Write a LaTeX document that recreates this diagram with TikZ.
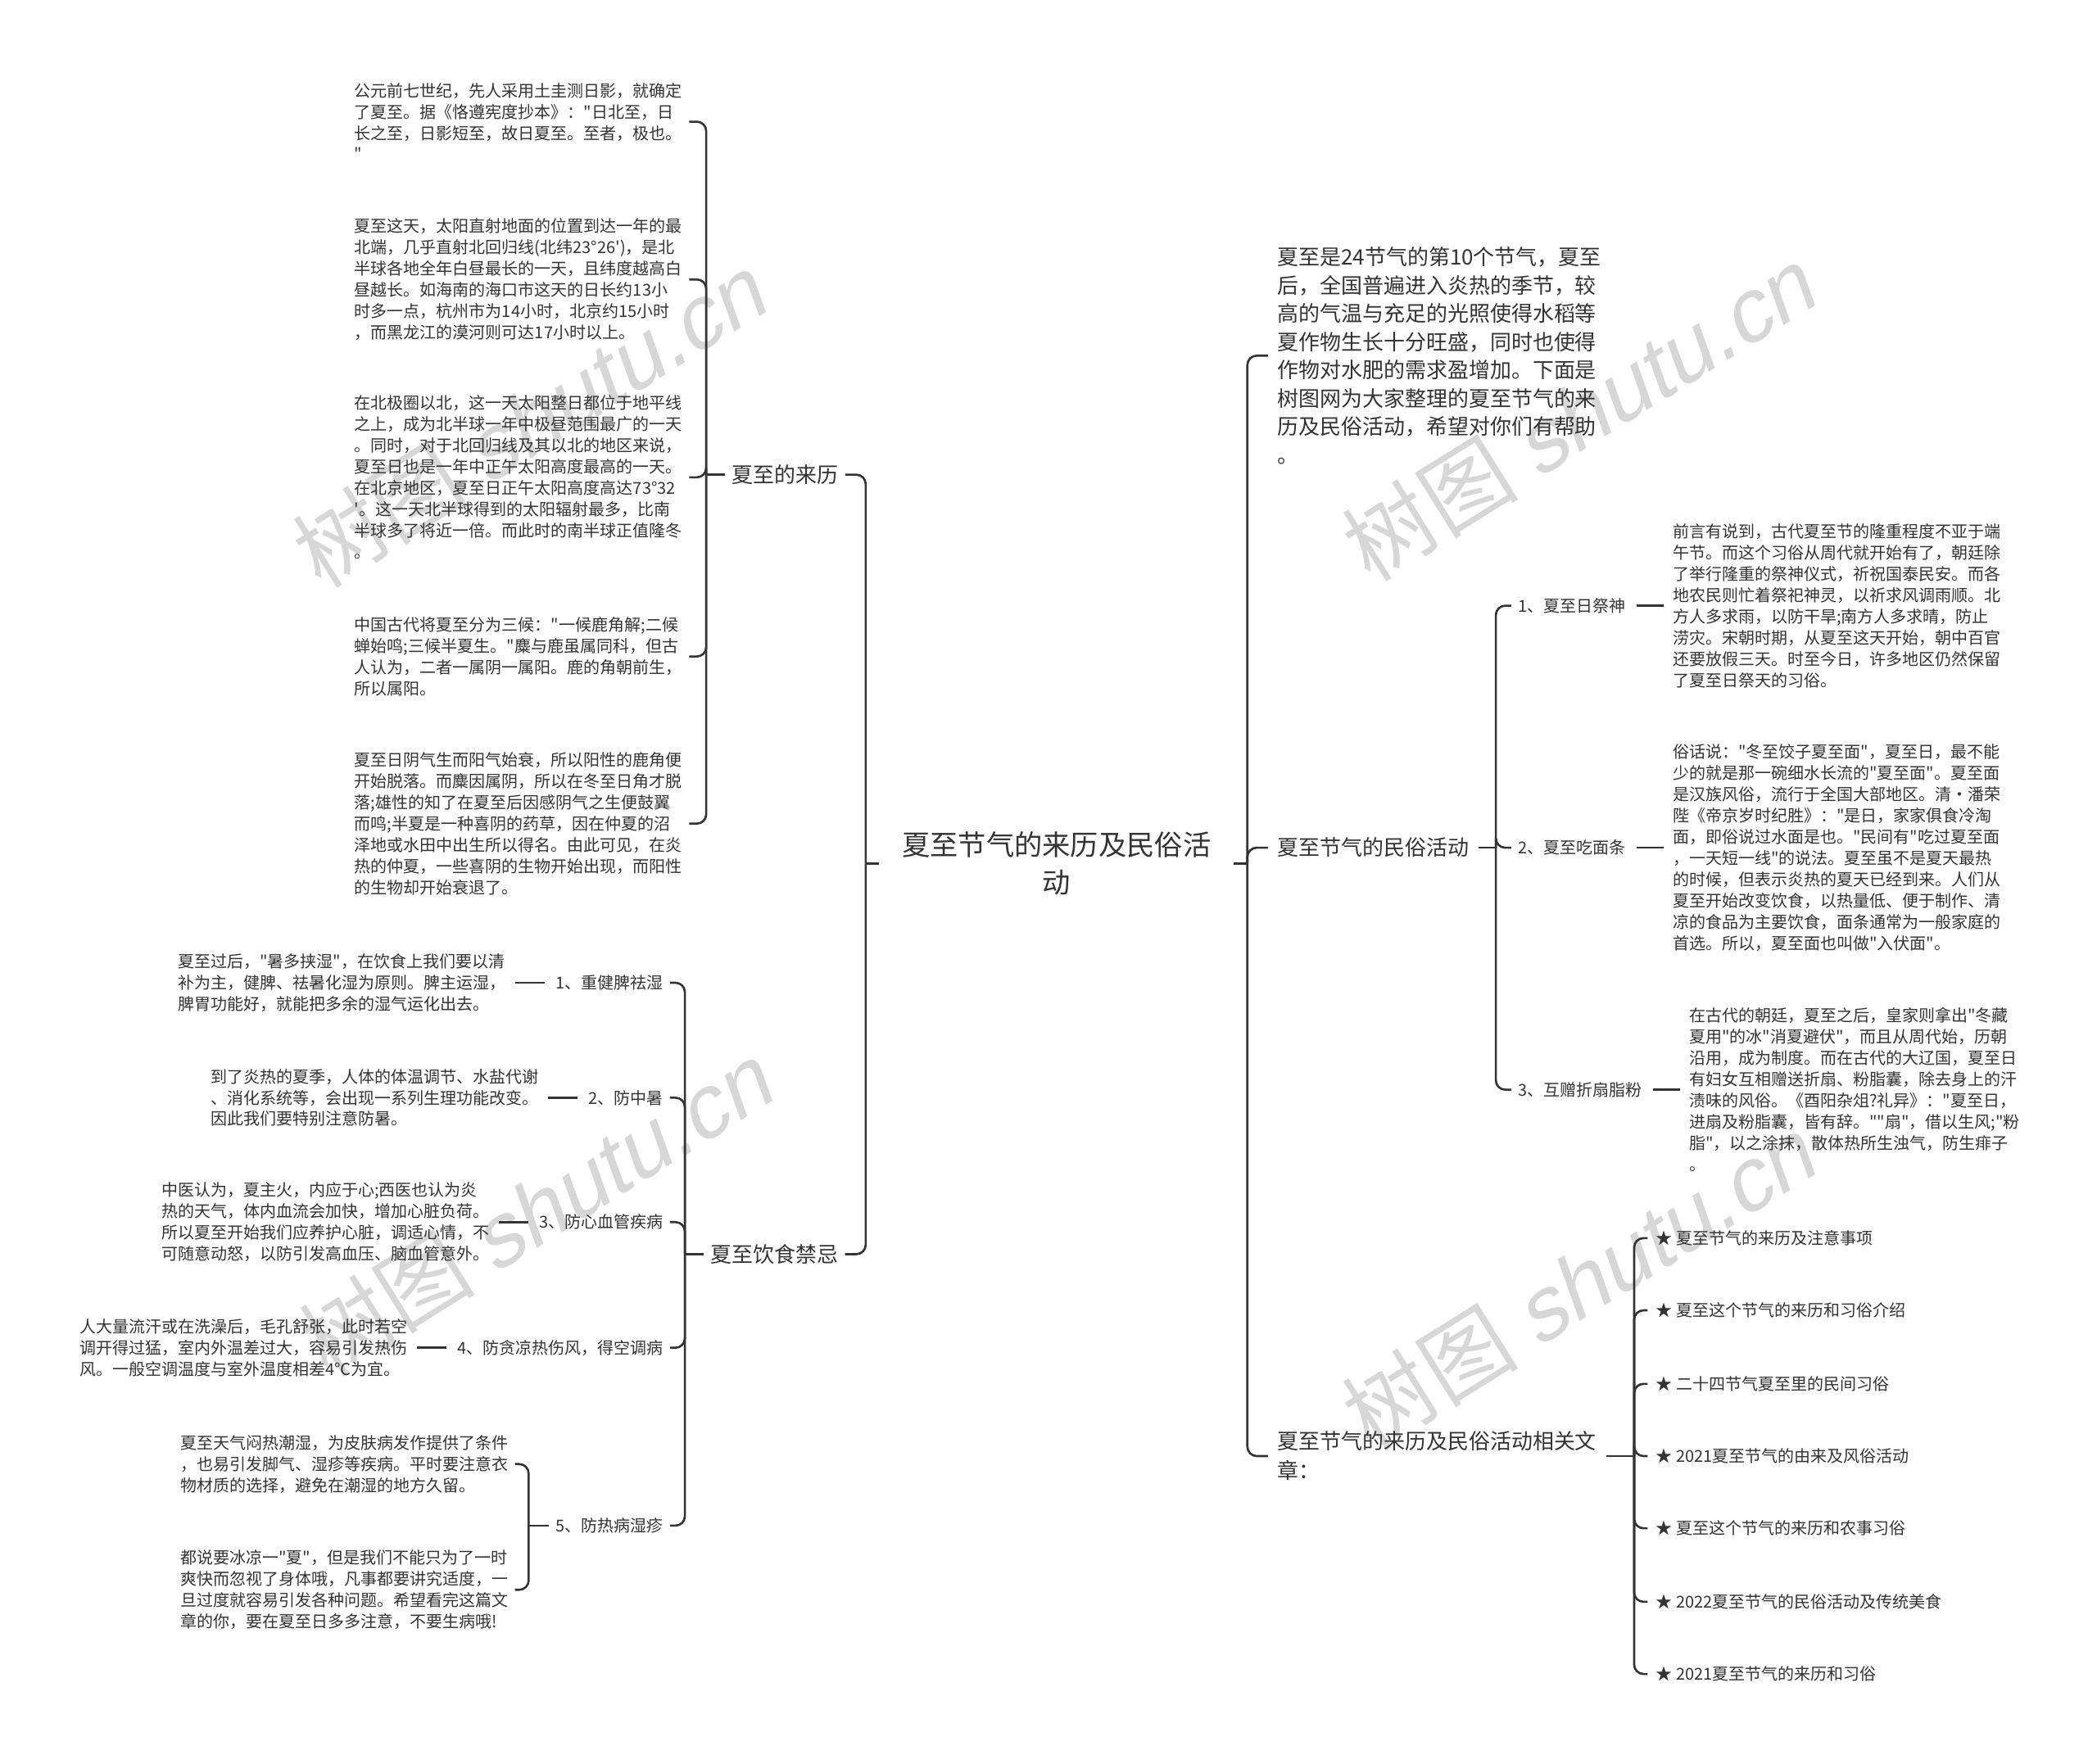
\documentclass[tikz,border=0pt]{standalone}
\usepackage{fontspec}
\setmainfont{Noto Sans CJK SC}[Ligatures=TeXOff]
\newfontfamily\wmlatin{Liberation Sans}[FakeSlant=0.22]
\usepackage{xcolor}
\usetikzlibrary{positioning}
\definecolor{inkgray}{RGB}{51,51,51}
\definecolor{wmgray}{RGB}{215,215,215}

\begin{document}
\begin{tikzpicture}[x=1pt, y=-1pt,
    conn/.style={draw=inkgray, line width=1.6pt},
    elbow/.style={conn, rounded corners=7pt},
    rootbox/.style={font=\fontsize{21}{28}\selectfont, align=center,
                    inner xsep=17pt, inner ysep=2pt, text=inkgray},
    branchlbl/.style={font=\fontsize{15.9}{22}\selectfont, align=left,
                      inner xsep=5pt, inner ysep=1pt, text=inkgray},
    introtxt/.style={font=\fontsize{15.9}{21.1}\selectfont, align=left,
                     inner xsep=7pt, inner ysep=1pt, text=inkgray},
    leaflbl/.style={font=\fontsize{12.25}{15.9}\selectfont,
                    inner xsep=5pt, inner ysep=1pt, text=inkgray},
    para/.style={font=\fontsize{12.25}{15.9}\selectfont, align=left,
                 inner xsep=5pt, inner ysep=1pt, text=inkgray},
    itemlbl/.style={font=\fontsize{12.25}{15.9}\selectfont, anchor=west,
                    inner xsep=6pt, inner ysep=1pt, text=inkgray},
    wmtext/.style={font=\fontsize{66}{70}\selectfont, text=wmgray, rotate=32}
]
\useasboundingbox (0,0) rectangle (1568,1319);

% watermarks
\node[wmtext] (wm1) at (395,315) {树图 {\wmlatin shutu.cn}};
\node[wmtext] (wm2) at (1180,310) {树图 {\wmlatin shutu.cn}};
\node[wmtext] (wm3) at (400,905) {树图 {\wmlatin shutu.cn}};
\node[wmtext] (wm4) at (1180,960) {树图 {\wmlatin shutu.cn}};

% root
\node[rootbox] (root) at (790,646) {夏至节气的来历及民俗活\\动};

% left: origin
\node[branchlbl] (lai) at (587,355) {夏至的来历};
\node[para, anchor=west] (lai1) at (260,91) {公元前七世纪，先人采用土圭测日影，就确定\\了夏至。据《恪遵宪度抄本》："日北至，日\\长之至，日影短至，故日夏至。至者，极也。\\"};
\node[para, anchor=west] (lai2) at (260,209) {夏至这天，太阳直射地面的位置到达一年的最\\北端，几乎直射北回归线(北纬23°26')，是北\\半球各地全年白昼最长的一天，且纬度越高白\\昼越长。如海南的海口市这天的日长约13小\\时多一点，杭州市为14小时，北京约15小时\\，而黑龙江的漠河则可达17小时以上。};
\node[para, anchor=west] (lai3) at (260,357) {在北极圈以北，这一天太阳整日都位于地平线\\之上，成为北半球一年中极昼范围最广的一天\\。同时，对于北回归线及其以北的地区来说，\\夏至日也是一年中正午太阳高度最高的一天。\\在北京地区，夏至日正午太阳高度高达73°32\\'。这一天北半球得到的太阳辐射最多，比南\\半球多了将近一倍。而此时的南半球正值隆冬\\。};
\node[para, anchor=west] (lai4) at (260,491) {中国古代将夏至分为三候："一候鹿角解;二候\\蝉始鸣;三候半夏生。"麋与鹿虽属同科，但古\\人认为，二者一属阴一属阳。鹿的角朝前生，\\所以属阳。};
\node[para, anchor=west] (lai5) at (260,616) {夏至日阴气生而阳气始衰，所以阳性的鹿角便\\开始脱落。而麋因属阴，所以在冬至日角才脱\\落;雄性的知了在夏至后因感阴气之生便鼓翼\\而鸣;半夏是一种喜阴的药草，因在仲夏的沼\\泽地或水田中出生所以得名。由此可见，在炎\\热的仲夏，一些喜阴的生物开始出现，而阳性\\的生物却开始衰退了。};

% left: diet
\node[branchlbl] (yin) at (579,938) {夏至饮食禁忌};
\node[leaflbl, anchor=east] (y1) at (501,735) {1、重健脾祛湿};
\node[leaflbl, anchor=east] (y2) at (501,821) {2、防中暑};
\node[leaflbl, anchor=east] (y3) at (501,914) {3、防心血管疾病};
\node[leaflbl, anchor=east] (y4) at (501,1008) {4、防贪凉热伤风，得空调病};
\node[leaflbl, anchor=east] (y5) at (501,1141) {5、防热病湿疹};
\node[para, left=27pt of y1] (y1t) {夏至过后，"暑多挟湿"，在饮食上我们要以清\\补为主，健脾、祛暑化湿为原则。脾主运湿，\\脾胃功能好，就能把多余的湿气运化出去。};
\node[para, left=27pt of y2] (y2t) {到了炎热的夏季，人体的体温调节、水盐代谢\\、消化系统等，会出现一系列生理功能改变。\\因此我们要特别注意防暑。};
\node[para, left=27pt of y3] (y3t) {中医认为，夏主火，内应于心;西医也认为炎\\热的天气，体内血流会加快，增加心脏负荷。\\所以夏至开始我们应养护心脏，调适心情，不\\可随意动怒，以防引发高血压、脑血管意外。};
\node[para, left=27pt of y4] (y4t) {人大量流汗或在洗澡后，毛孔舒张，此时若空\\调开得过猛，室内外温差过大，容易引发热伤\\风。一般空调温度与室外温度相差4℃为宜。};
\node[para, anchor=east] (y5a) at (385,1095) {夏至天气闷热潮湿，为皮肤病发作提供了条件\\，也易引发脚气、湿疹等疾病。平时要注意衣\\物材质的选择，避免在潮湿的地方久留。};
\node[para, anchor=east] (y5b) at (385,1189) {都说要冰凉一"夏"，但是我们不能只为了一时\\爽快而忽视了身体哦，凡事都要讲究适度，一\\旦过度就容易引发各种问题。希望看完这篇文\\章的你，要在夏至日多多注意，不要生病哦!};

% right: intro and customs
\node[introtxt, anchor=west] (intro) at (948,266) {夏至是24节气的第10个节气，夏至\\后，全国普遍进入炎热的季节，较\\高的气温与充足的光照使得水稻等\\夏作物生长十分旺盛，同时也使得\\作物对水肥的需求盈增加。下面是\\树图网为大家整理的夏至节气的来\\历及民俗活动，希望对你们有帮助\\。};
\node[branchlbl, anchor=west, inner xsep=7pt] (min) at (948,634) {夏至节气的民俗活动};
\node[leaflbl, anchor=west] (m1) at (1130,453) {1、夏至日祭神};
\node[leaflbl, anchor=west] (m2) at (1130,634) {2、夏至吃面条};
\node[leaflbl, anchor=west] (m3) at (1130,815) {3、互赠折扇脂粉};
\node[para, right=25pt of m1] (m1t) {前言有说到，古代夏至节的隆重程度不亚于端\\午节。而这个习俗从周代就开始有了，朝廷除\\了举行隆重的祭神仪式，祈祝国泰民安。而各\\地农民则忙着祭祀神灵，以祈求风调雨顺。北\\方人多求雨，以防干旱;南方人多求晴，防止\\涝灾。宋朝时期，从夏至这天开始，朝中百官\\还要放假三天。时至今日，许多地区仍然保留\\了夏至日祭天的习俗。};
\node[para, right=25pt of m2] (m2t) {俗话说："冬至饺子夏至面"，夏至日，最不能\\少的就是那一碗细水长流的"夏至面"。夏至面\\是汉族风俗，流行于全国大部地区。清·潘荣\\陛《帝京岁时纪胜》："是日，家家俱食冷淘\\面，即俗说过水面是也。"民间有"吃过夏至面\\，一天短一线"的说法。夏至虽不是夏天最热\\的时候，但表示炎热的夏天已经到来。人们从\\夏至开始改变饮食，以热量低、便于制作、清\\凉的食品为主要饮食，面条通常为一般家庭的\\首选。所以，夏至面也叫做"入伏面"。};
\node[para, right=25pt of m3] (m3t) {在古代的朝廷，夏至之后，皇家则拿出"冬藏\\夏用"的冰"消夏避伏"，而且从周代始，历朝\\沿用，成为制度。而在古代的大辽国，夏至日\\有妇女互相赠送折扇、粉脂囊，除去身上的汗\\渍味的风俗。《酉阳杂俎?礼异》："夏至日，\\进扇及粉脂囊，皆有辞。""扇"，借以生风;"粉\\脂"，以之涂抹，散体热所生浊气，防生痱子\\。};

% right: related articles
\node[branchlbl, anchor=west, inner xsep=7pt] (rel) at (948,1089) {夏至节气的来历及民俗活动相关文\\章：};
\node[itemlbl] (r1) at (1232,926) {★ 夏至节气的来历及注意事项};
\node[itemlbl] (r2) at (1232,980) {★ 夏至这个节气的来历和习俗介绍};
\node[itemlbl] (r3) at (1232,1035) {★ 二十四节气夏至里的民间习俗};
\node[itemlbl] (r4) at (1232,1089) {★ 2021夏至节气的由来及风俗活动};
\node[itemlbl] (r5) at (1232,1143) {★ 夏至这个节气的来历和农事习俗};
\node[itemlbl] (r6) at (1232,1198) {★ 2022夏至节气的民俗活动及传统美食};
\node[itemlbl] (r7) at (1232,1252) {★ 2021夏至节气的来历和习俗};

% connectors, left
\draw[conn] (root.west) -- ++(-10,0) coordinate (rootL);
\draw[elbow] (rootL) |- (lai.east);
\draw[elbow] (rootL) |- (yin.east);
\draw[conn] (lai.west) -- ++(-14,0) coordinate (laiJ);
\draw[elbow] (laiJ) |- (lai1.east);
\draw[elbow] (laiJ) |- (lai2.east);
\draw[elbow] (laiJ) |- (lai3.east);
\draw[elbow] (laiJ) |- (lai4.east);
\draw[elbow] (laiJ) |- (lai5.east);
\draw[conn] (yin.west) -- ++(-14,0) coordinate (yinJ);
\draw[elbow] (yinJ) |- (y1.east);
\draw[elbow] (yinJ) |- (y2.east);
\draw[elbow] (yinJ) |- (y3.east);
\draw[elbow] (yinJ) |- (y4.east);
\draw[elbow] (yinJ) |- (y5.east);
\draw[conn, shorten <=2pt, shorten >=3pt] (y1t.east) -- (y1.west);
\draw[conn, shorten <=2pt, shorten >=3pt] (y2t.east) -- (y2.west);
\draw[conn, shorten <=2pt, shorten >=3pt] (y3t.east) -- (y3.west);
\draw[conn, shorten <=2pt, shorten >=3pt] (y4t.east) -- (y4.west);
\draw[conn] (y5.west) -- ++(-15,0) coordinate (y5J);
\draw[elbow] (y5J) |- (y5a.east);
\draw[elbow] (y5J) |- (y5b.east);

% connectors, right
\draw[conn] (root.east) -- ++(10,0) coordinate (rootR);
\draw[elbow] (rootR) |- (intro.west);
\draw[elbow] (rootR) |- (min.west);
\draw[elbow] (rootR) |- (rel.west);
\draw[conn] (min.east) -- ++(13,0) coordinate (minJ);
\draw[elbow] (minJ) |- (m1.west);
\draw[elbow] (minJ) |- (m2.west);
\draw[elbow] (minJ) |- (m3.west);
\draw[conn, shorten <=3pt, shorten >=2pt] (m1.east) -- (m1t.west);
\draw[conn, shorten <=3pt, shorten >=2pt] (m2.east) -- (m2t.west);
\draw[conn, shorten <=3pt, shorten >=2pt] (m3.east) -- (m3t.west);
\draw[conn] (rel.east) -- ++(21,0) coordinate (relJ);
\draw[elbow] (relJ) |- (r1.west);
\draw[elbow] (relJ) |- (r2.west);
\draw[elbow] (relJ) |- (r3.west);
\draw[elbow] (relJ) |- (r4.west);
\draw[elbow] (relJ) |- (r5.west);
\draw[elbow] (relJ) |- (r6.west);
\draw[elbow] (relJ) |- (r7.west);

\end{tikzpicture}
\end{document}
